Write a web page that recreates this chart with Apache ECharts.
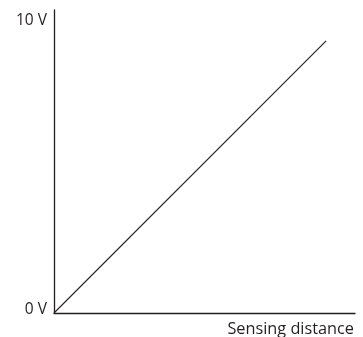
<!DOCTYPE html>
<html><head><meta charset="utf-8">
<script src="https://cdn.jsdelivr.net/npm/echarts@6/dist/echarts.min.js"></script>
<style>html,body{margin:0;padding:0;background:#fff}#c{width:363px;height:337px}</style>
</head><body><div id="c"></div>
<script>
const lineX = [0, 9.04];
const lineY = [0, 9.43];
const yTickValues = [0, 10];
const yTickLabels = ['0 V', '10 V'];
const xAxisName = 'Sensing distance';

const chart = echarts.init(document.getElementById('c'), null, {renderer: 'canvas'});
const font = '"Open Sans", sans-serif';
chart.setOption({
  animation: false,
  grid: {left: 54, right: 8, top: 10, bottom: 24, containLabel: false},
  xAxis: {
    type: 'value', min: 0, max: 10,
    axisLine: {show: true, lineStyle: {color: '#231f20', width: 1.3}},
    axisTick: {show: false}, splitLine: {show: false}, axisLabel: {show: false},
    name: xAxisName, nameLocation: 'end', nameGap: 0,
    nameTextStyle: {align: 'right', verticalAlign: 'top', padding: [8, 1, 0, 0], fontSize: 16.3, lineHeight: 16, color: '#231f20', fontFamily: font}
  },
  yAxis: {
    type: 'value', min: 0, max: 10.5, interval: 10,
    axisLine: {show: true, lineStyle: {color: '#231f20', width: 1.3}},
    axisTick: {show: false}, splitLine: {show: false},
    axisLabel: {
      customValues: yTickValues,
      formatter: v => yTickLabels[yTickValues.indexOf(v)] || '',
      margin: 7, fontSize: 15.5, color: '#231f20', fontFamily: font,
      verticalAlign: 'bottom', lineHeight: 7
    }
  },
  series: [{
    type: 'line', data: lineX.map((x, i) => [x, lineY[i]]),
    showSymbol: false, symbol: 'none',
    lineStyle: {color: '#231f20', width: 1.1}
  }]
});
</script></body></html>
